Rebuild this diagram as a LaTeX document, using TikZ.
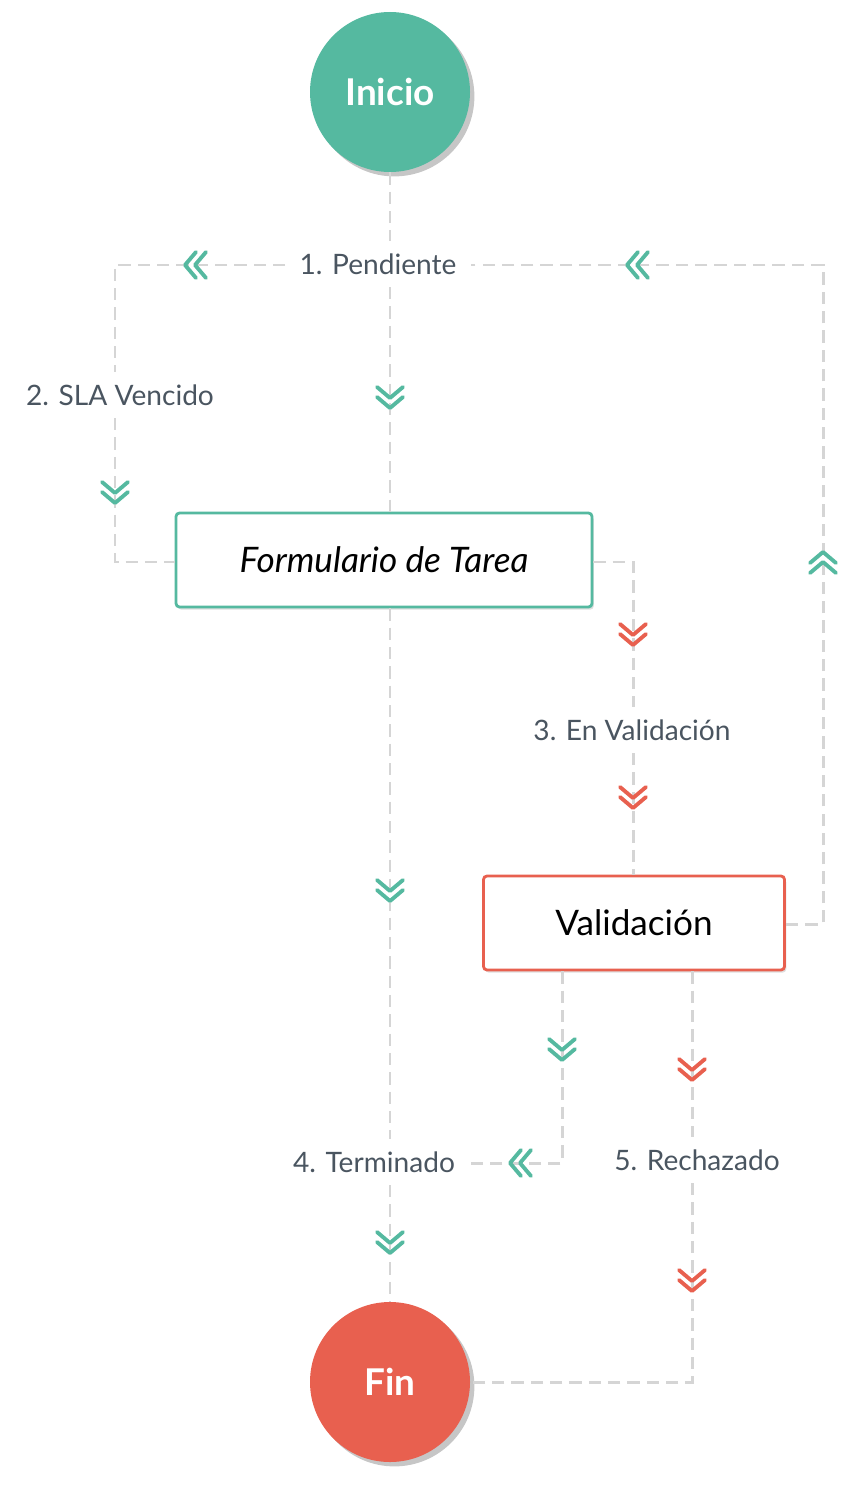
\documentclass[tikz,border=0pt]{standalone}
\usepackage{fontspec}
\setmainfont{Lato}
\usetikzlibrary{shadows}
\definecolor{teal}{HTML}{55B9A0}
\definecolor{coral}{HTML}{E8604F}
\definecolor{flow}{HTML}{D5D5D5}
\definecolor{ink}{HTML}{4A5560}
\tikzset{
  term/.style={circle, minimum size=160*0.02cm, inner sep=0pt, text=white, font=\bfseries\fontsize{21}{24}\selectfont,
    drop shadow={shadow xshift=2.5pt, shadow yshift=-2.5pt, opacity=0.45}},
  task/.style={draw, line width=1.6pt, rounded corners=2pt, fill=white, minimum height=94*0.02cm,
    font=\fontsize{20}{24}\selectfont, drop shadow={shadow xshift=1pt, shadow yshift=-1.5pt, opacity=0.25}},
  state/.style={text=ink, font=\fontsize{16}{20}\selectfont, inner xsep=8pt, inner ysep=7pt},
  link/.style={draw=flow, line width=1.7pt, dash pattern=on 7pt off 4pt},
  chev/.pic={\draw[line width=2.2pt, line cap=round, line join=round]
    (-13,-11) -- (0,0) -- (13,-11) (-13,-1) -- (0,10) -- (13,-1);}
}
\begin{document}
\begin{tikzpicture}[x=0.02cm, y=-0.02cm]
    \useasboundingbox (0,0) rectangle (856,1490);
    % states and tasks
    \node[term, fill=teal] (inicio) at (390,92) {Inicio};
    \node[term, fill=coral] (fin) at (390,1382) {Fin};
    \node[task, draw=teal, minimum width=416*0.02cm] (form) at (384,560) {\itshape Formulario de Tarea};
    \node[task, draw=coral, minimum width=301*0.02cm] (valid) at (634,923) {Validación};
    \node[state] (pend) at (378,264) {1. Pendiente};
    \node[state] (sla) at (120,395) {2. SLA Vencido};
    \node[state] (enval) at (632,730) {3. En Validación};
    \node[state] (term) at (374,1162) {4. Terminado};
    \node[state] (rech) at (697,1160) {5. Rechazado};
    % corners
    \coordinate (c1) at (115,265);
    \coordinate (c2) at (115,562);
    \coordinate (c3) at (823,924);
    \coordinate (c4) at (823,265);
    \coordinate (c5) at (633,562);
    \coordinate (c6) at (562,1163);
    \coordinate (c7) at (692,1382);

    \draw[link] (inicio) -- (pend.north -| inicio);
    \draw[link] (pend.south -| inicio) -- (form.north -| inicio);
    \draw[link] (pend.west |- c1) -- (c1) -- (sla.north -| c1);
    \draw[link] (sla.south -| c1) -- (c2) -- (form.west |- c2);
    \draw[link] (valid.east |- c3) -- (c3) -- (c4) -- (pend.east |- c4);
    \draw[link] (form.east |- c5) -- (c5) -- (enval.north -| c5);
    \draw[link] (enval.south -| c5) -- (valid.north -| c5);
    \draw[link] (form.south -| inicio) -- (term.north -| inicio);
    \draw[link] (term.south -| inicio) -- (fin);
    \draw[link] (valid.south -| c6) -- (c6) -- (term.east |- c6);
    \draw[link] (valid.south -| c7) -- (rech.north -| c7);
    \draw[link] (rech.south -| c7) -- (c7) -- (fin);

    % markers
    \pic[teal] at (390,398) {chev};
    \pic[teal, rotate=-90] at (195,265) {chev};
    \pic[teal] at (115,493) {chev};
    \pic[teal, rotate=-90] at (637,265) {chev};
    \pic[teal, rotate=180] at (823,562) {chev};
    \pic[coral] at (633,635) {chev};
    \pic[coral] at (633,798) {chev};
    \pic[teal] at (390,891) {chev};
    \pic[teal] at (562,1050) {chev};
    \pic[teal, rotate=-90] at (520,1163) {chev};
    \pic[coral] at (692,1070) {chev};
    \pic[teal] at (390,1243) {chev};
    \pic[coral] at (692,1281) {chev};
\end{tikzpicture}
\end{document}
